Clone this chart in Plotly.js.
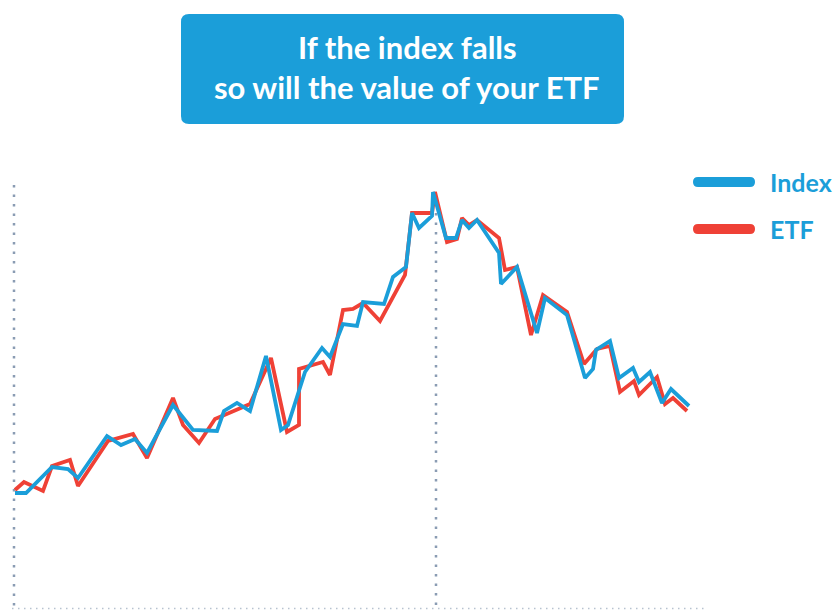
<!DOCTYPE html>
<html>
<head>
<meta charset="utf-8">
<script src="https://cdn.plot.ly/plotly-3.0.1.min.js"></script>
<style>html,body{margin:0;padding:0;background:#fff;}#chart{width:833px;height:610px;}</style>
</head>
<body>
<div id="chart"></div>
<script>
// Time steps (horizontal position) and values (higher = higher price)
const etfT   = [15,24,43,52,70,78,108,133,147,173,183,199,215,250,271,287,299,299,323,330,343,353,363,380,405,412,432,435,447,457,462,469,477,499,505,517,531,543,567,584,597,610,620,634,639,657,665,673,687];
const etfVal = [120,128,119,144,150,124,169,176,152,212,185,167,191,206,252,178,185,241,248,235,300,301,307,289,335,397,397,418,368,371,392,385,390,372,340,343,275,315,298,246,261,264,218,229,215,233,206,212,199];
const indexT   = [15,26,52,68,78,107,121,135,147,173,193,217,224,237,250,266,281,288,305,322,330,343,357,363,384,393,406,412,419,432,433,446,456,462,469,477,499,501,517,537,545,567,585,593,596,610,619,633,639,650,662,671,689];
const indexVal = [117,117,143,141,132,174,165,171,157,205,180,179,199,207,199,254,180,185,238,262,253,286,284,308,306,333,343,397,382,394,418,372,372,390,382,390,357,326,343,277,312,295,232,241,260,269,232,242,228,238,207,221,204];
const seriesNames = ["Index", "ETF"];
const titleLines = ["If the index falls", "so will the value of your ETF"];

const BLUE = "#1b9ed9", RED = "#ef4136", DOT = "#8a9cb3";

function roundRect(x0, y0, x1, y1, r) {
  // y0 top (higher value), y1 bottom
  return `M${x0+r},${y0} L${x1-r},${y0} Q${x1},${y0} ${x1},${y0-r} L${x1},${y1+r} Q${x1},${y1} ${x1-r},${y1} L${x0+r},${y1} Q${x0},${y1} ${x0},${y1+r} L${x0},${y0-r} Q${x0},${y0} ${x0+r},${y0} Z`;
}

const traces = [
  {x: etfT, y: etfVal, name: seriesNames[1], mode: "lines", line: {color: RED, width: 3.8}, showlegend: false, hoverinfo: "skip"},
  {x: indexT, y: indexVal, name: seriesNames[0], mode: "lines", line: {color: BLUE, width: 3.8}, showlegend: false, hoverinfo: "skip"}
];

const layout = {
  width: 833, height: 610,
  margin: {l: 0, r: 0, t: 0, b: 0},
  paper_bgcolor: "#fff", plot_bgcolor: "#fff",
  xaxis: {range: [0, 833], visible: false, fixedrange: true},
  yaxis: {range: [0, 610], visible: false, fixedrange: true},
  showlegend: false,
  shapes: [
    {type: "path", xref: "x", yref: "y", path: roundRect(181, 596, 624, 486, 8), fillcolor: BLUE, line: {width: 0}, layer: "above"},
    {type: "line", xref: "x", yref: "y", x0: 14, x1: 14, y0: 425, y1: 3, line: {color: DOT, width: 2.5, dash: "2.5px,7px"}, layer: "below"},
    {type: "line", xref: "x", yref: "y", x0: 436, x1: 436, y0: 397, y1: 3, line: {color: DOT, width: 2.5, dash: "2.5px,7px"}, layer: "below"},
    {type: "line", xref: "x", yref: "y", x0: 12, x1: 708, y0: 1.5, y1: 1.5, line: {color: "#b7c2d0", width: 1.5, dash: "1.5px,4.5px"}, layer: "below"},
    {type: "path", xref: "x", yref: "y", path: roundRect(693, 433, 755, 423, 5), fillcolor: BLUE, line: {width: 0}},
    {type: "path", xref: "x", yref: "y", path: roundRect(693, 386, 755, 376, 5), fillcolor: RED, line: {width: 0}}
  ],
  annotations: [
    {xref: "x", yref: "y", x: 407, y: 563, text: titleLines[0], showarrow: false, xanchor: "center", yanchor: "middle",
     font: {family: "Lato, 'Open Sans', sans-serif", size: 31, color: "#fff", weight: 700}},
    {xref: "x", yref: "y", x: 407, y: 523, text: titleLines[1], showarrow: false, xanchor: "center", yanchor: "middle",
     font: {family: "Lato, 'Open Sans', sans-serif", size: 31, color: "#fff", weight: 700}},
    {xref: "x", yref: "y", x: 768, y: 428, text: seriesNames[0], showarrow: false, xanchor: "left", yanchor: "middle",
     font: {family: "Lato, 'Open Sans', sans-serif", size: 25, color: BLUE, weight: 700}},
    {xref: "x", yref: "y", x: 768, y: 381, text: seriesNames[1], showarrow: false, xanchor: "left", yanchor: "middle",
     font: {family: "Lato, 'Open Sans', sans-serif", size: 25, color: BLUE, weight: 700}}
  ]
};

Plotly.newPlot("chart", traces, layout, {staticPlot: true, displayModeBar: false});
</script>
</body>
</html>
